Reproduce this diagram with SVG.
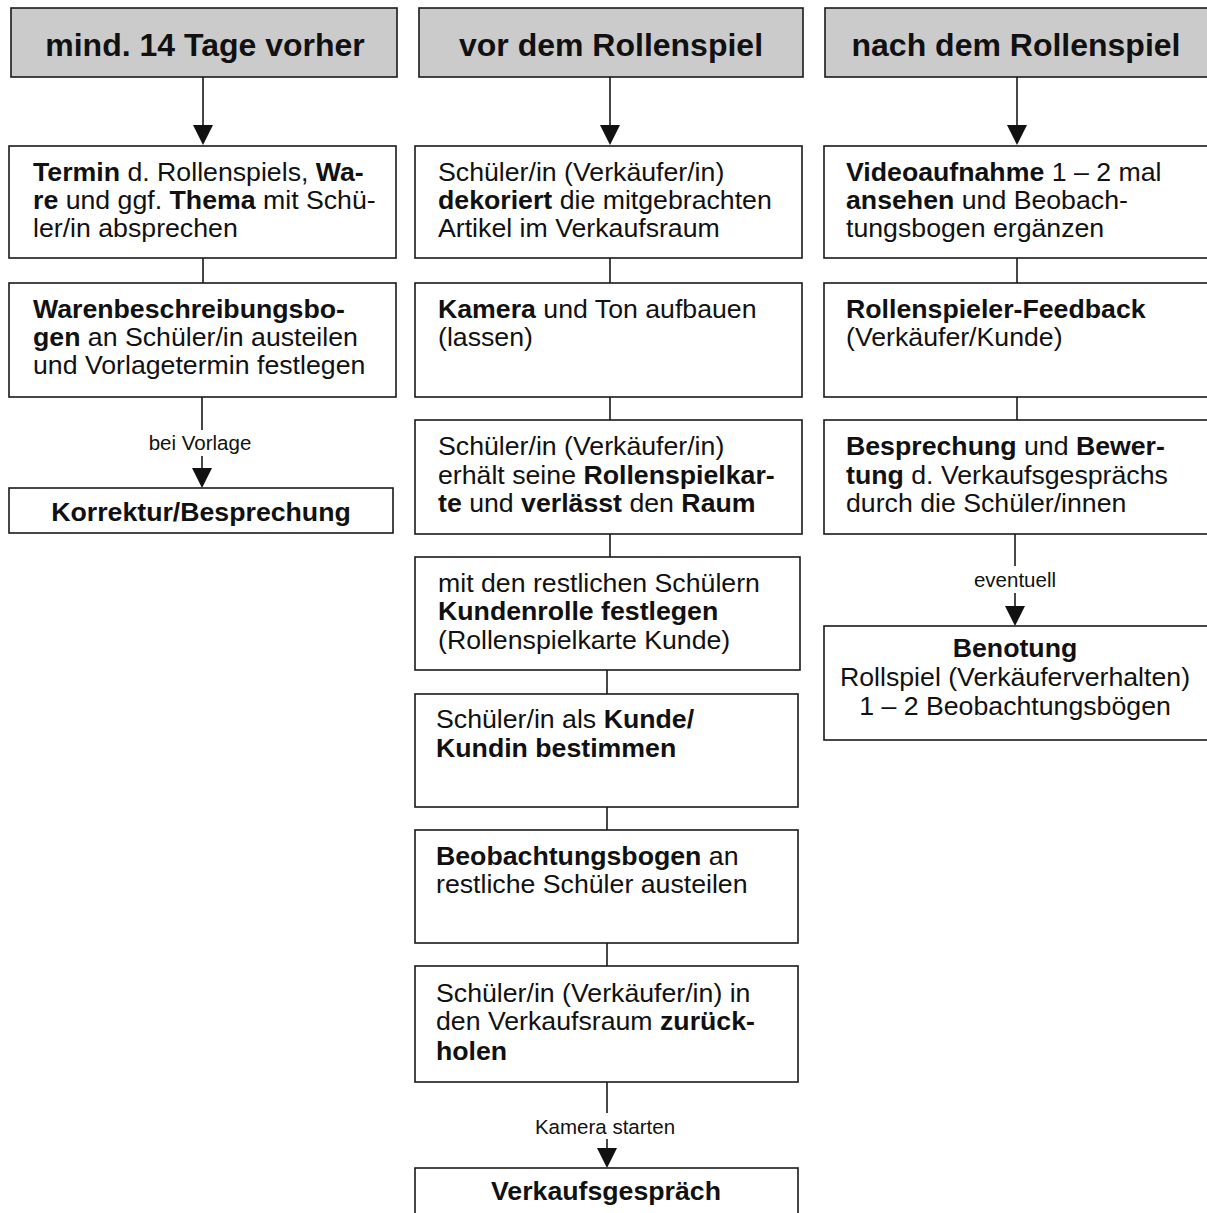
<svg xmlns="http://www.w3.org/2000/svg" width="1207" height="1213" viewBox="0 0 1207 1213">
<defs>
<style>
text{font-family:"Liberation Sans",Arial,sans-serif;fill:#111;}
.t{font-size:26.7px;}
.h{font-size:32px;font-weight:bold;text-anchor:middle;}
.c{text-anchor:middle;}
.lbl{font-size:20.5px;text-anchor:middle;}
.b{font-weight:bold;}
.box{fill:#fff;stroke:#1a1a1a;stroke-width:1.6;}
.hdr{fill:#cbcbcb;stroke:#1a1a1a;stroke-width:1.6;}
.ln{stroke:#1a1a1a;stroke-width:1.6;fill:none;}
.ah{fill:#111;}
</style>
</defs>
<rect width="1207" height="1213" fill="#fff"/>

<g id="connectors">
<line class="ln" x1="203" y1="77" x2="203" y2="126"/>
<path class="ah" d="M193,125 L213,125 L203,145 Z"/>
<line class="ln" x1="203" y1="258" x2="203" y2="283"/>
<line class="ln" x1="202" y1="397" x2="202" y2="430"/>
<line class="ln" x1="202" y1="456" x2="202" y2="469"/>
<path class="ah" d="M192,468 L212,468 L202,488 Z"/>
<text class="lbl" x="200" y="450">bei Vorlage</text>

<line class="ln" x1="610" y1="77" x2="610" y2="126"/>
<path class="ah" d="M600,125 L620,125 L610,145 Z"/>
<line class="ln" x1="610" y1="258" x2="610" y2="283"/>
<line class="ln" x1="610" y1="397" x2="610" y2="420"/>
<line class="ln" x1="610" y1="534" x2="610" y2="557"/>
<line class="ln" x1="607" y1="670" x2="607" y2="694"/>
<line class="ln" x1="607" y1="807" x2="607" y2="830"/>
<line class="ln" x1="607" y1="943" x2="607" y2="966"/>
<line class="ln" x1="607" y1="1082" x2="607" y2="1113"/>
<line class="ln" x1="607" y1="1139" x2="607" y2="1149"/>
<path class="ah" d="M597,1148 L617,1148 L607,1168 Z"/>
<text class="lbl" x="605" y="1134">Kamera starten</text>

<line class="ln" x1="1017" y1="77" x2="1017" y2="126"/>
<path class="ah" d="M1007,125 L1027,125 L1017,145 Z"/>
<line class="ln" x1="1017" y1="258" x2="1017" y2="283"/>
<line class="ln" x1="1017" y1="397" x2="1017" y2="420"/>
<line class="ln" x1="1015" y1="534" x2="1015" y2="566"/>
<line class="ln" x1="1015" y1="593" x2="1015" y2="607"/>
<path class="ah" d="M1005,606 L1025,606 L1015,626 Z"/>
<text class="lbl" x="1015" y="587">eventuell</text>
</g>

<g id="h1"><rect class="hdr" x="11" y="8" width="386" height="69"/><text class="h" x="205" y="56">mind. 14 Tage vorher</text></g>
<g id="h2"><rect class="hdr" x="419" y="8" width="384" height="69"/><text class="h" x="611" y="56">vor dem Rollenspiel</text></g>
<g id="h3"><rect class="hdr" x="825" y="8" width="390" height="69"/><text class="h" x="1016" y="56">nach dem Rollenspiel</text></g>

<g id="l1"><rect class="box" x="9" y="146" width="387" height="112"/>
<text class="t" x="33" y="181"><tspan class="b">Termin</tspan> d. Rollenspiels, <tspan class="b">Wa-</tspan></text>
<text class="t" x="33" y="209"><tspan class="b">re</tspan> und ggf. <tspan class="b">Thema</tspan> mit Schü-</text>
<text class="t" x="33" y="237">ler/in absprechen</text></g>
<g id="l2"><rect class="box" x="9" y="283" width="387" height="114"/>
<text class="t b" x="33" y="318">Warenbeschreibungsbo-</text>
<text class="t" x="33" y="346"><tspan class="b">gen</tspan> an Schüler/in austeilen</text>
<text class="t" x="33" y="374">und Vorlagetermin festlegen</text></g>
<g id="l3"><rect class="box" x="9" y="488" width="384" height="45"/>
<text class="t b c" x="201" y="521">Korrektur/Besprechung</text></g>

<g id="m1"><rect class="box" x="415" y="146" width="387" height="112"/>
<text class="t" x="438" y="181">Schüler/in (Verkäufer/in)</text>
<text class="t" x="438" y="209"><tspan class="b">dekoriert</tspan> die mitgebrachten</text>
<text class="t" x="438" y="237">Artikel im Verkaufsraum</text></g>
<g id="m2"><rect class="box" x="415" y="283" width="387" height="114"/>
<text class="t" x="438" y="318"><tspan class="b">Kamera</tspan> und Ton aufbauen</text>
<text class="t" x="438" y="346">(lassen)</text></g>
<g id="m3"><rect class="box" x="415" y="420" width="387" height="114"/>
<text class="t" x="438" y="455">Schüler/in (Verkäufer/in)</text>
<text class="t" x="438" y="484">erhält seine <tspan class="b">Rollenspielkar-</tspan></text>
<text class="t" x="438" y="512"><tspan class="b">te</tspan> und <tspan class="b">verlässt</tspan> den <tspan class="b">Raum</tspan></text></g>
<g id="m4"><rect class="box" x="415" y="557" width="385" height="113"/>
<text class="t" x="438" y="592">mit den restlichen Schülern</text>
<text class="t" x="438" y="620"><tspan class="b">Kundenrolle festlegen</tspan></text>
<text class="t" x="438" y="649">(Rollenspielkarte Kunde)</text></g>
<g id="m5"><rect class="box" x="415" y="694" width="383" height="113"/>
<text class="t" x="436" y="728">Schüler/in als <tspan class="b">Kunde/</tspan></text>
<text class="t b" x="436" y="757">Kundin bestimmen</text></g>
<g id="m6"><rect class="box" x="415" y="830" width="383" height="113"/>
<text class="t b" x="436" y="865">Beobachtungsbogen<tspan font-weight="normal"> an</tspan></text>
<text class="t" x="436" y="893">restliche Schüler austeilen</text></g>
<g id="m7"><rect class="box" x="415" y="966" width="383" height="116"/>
<text class="t" x="436" y="1002">Schüler/in (Verkäufer/in) in</text>
<text class="t" x="436" y="1030">den Verkaufsraum <tspan class="b">zurück-</tspan></text>
<text class="t b" x="436" y="1060">holen</text></g>
<g id="m8"><rect class="box" x="415" y="1168" width="383" height="60"/>
<text class="t b c" x="606" y="1200">Verkaufsgespräch</text></g>

<g id="r1"><rect class="box" x="824" y="146" width="390" height="112"/>
<text class="t" x="846" y="181"><tspan class="b">Videoaufnahme</tspan> 1 – 2 mal</text>
<text class="t" x="846" y="209"><tspan class="b">ansehen</tspan> und Beobach-</text>
<text class="t" x="846" y="237">tungsbogen ergänzen</text></g>
<g id="r2"><rect class="box" x="824" y="283" width="390" height="114"/>
<text class="t b" x="846" y="318">Rollenspieler-Feedback</text>
<text class="t" x="846" y="346">(Verkäufer/Kunde)</text></g>
<g id="r3"><rect class="box" x="824" y="420" width="390" height="114"/>
<text class="t" x="846" y="455"><tspan class="b">Besprechung</tspan> und <tspan class="b">Bewer-</tspan></text>
<text class="t" x="846" y="484"><tspan class="b">tung</tspan> d. Verkaufsgesprächs</text>
<text class="t" x="846" y="512">durch die Schüler/innen</text></g>
<g id="r4"><rect class="box" x="824" y="626" width="390" height="114"/>
<text class="t b c" x="1015" y="657">Benotung</text>
<text class="t c" x="1015" y="686">Rollspiel (Verkäuferverhalten)</text>
<text class="t c" x="1015" y="715">1 – 2 Beobachtungsbögen</text></g>
</svg>
